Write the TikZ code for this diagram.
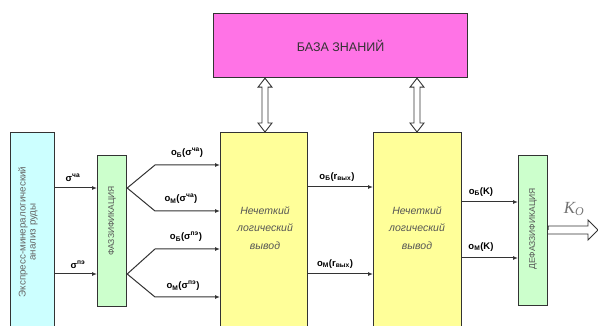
\documentclass[tikz,border=0pt]{standalone}
\usepackage{fontspec}
\setmainfont{Liberation Sans}
\newfontfamily\serifk{Liberation Serif}
\usetikzlibrary{calc,arrows.meta}
\definecolor{magbox}{HTML}{FF73E6}
\definecolor{yelbox}{HTML}{FFFF99}
\definecolor{cyabox}{HTML}{CCFFFF}
\definecolor{grebox}{HTML}{CCFFCC}
\definecolor{edge}{HTML}{333333}
\definecolor{txtgrey}{HTML}{555555}
\tikzset{
  box/.style={draw=edge, line width=1.2pt, anchor=north west, inner sep=0pt},
  arr/.style={draw=edge, line width=1pt, -{Latex[length=5pt,width=4pt]}},
  hollow/.style={draw=edge, line width=0.9pt, fill=white, line join=miter},
  lbl/.style={font=\fontsize{9.5}{10}\selectfont\bfseries, inner sep=0pt},
  ytext/.style={font=\fontsize{10.5}{17.5}\selectfont\itshape, text=txtgrey, align=center},
  vtext/.style={rotate=90, text=txtgrey, align=center}
}
\begin{document}
\begin{tikzpicture}[x=1pt,y=-1pt]
\clip (0,0) rectangle (598,326);
% boxes
\node[box, fill=magbox, minimum width=254pt, minimum height=64pt] (kb) at (213,13) {};
\node[font=\fontsize{12.5}{14}\selectfont, text=black!80] at (kb.center) {БАЗА ЗНАНИЙ};
\node[box, fill=yelbox, minimum width=87pt, minimum height=200pt] (y1) at (220,132) {};
\node[box, fill=yelbox, minimum width=88pt, minimum height=200pt] (y2) at (373,132) {};
\node[box, fill=cyabox, minimum width=44pt, minimum height=200pt] (cy) at (10,132) {};
\node[box, fill=grebox, minimum width=29pt, minimum height=151pt] (g1) at (97,155) {};
\node[box, fill=grebox, minimum width=29pt, minimum height=150pt] (g2) at (518,155) {};
% texts inside
\node[ytext] at (265,228) {Нечеткий\\логический\\вывод};
\node[ytext] at (417,228) {Нечеткий\\логический\\вывод};
\node[vtext, font=\fontsize{9.8}{10}\selectfont, text=txtgrey!90] at (28,232) {Экспресс-минералогический\\анализ руды};
\node[vtext, font=\fontsize{8.5}{9}\selectfont] at (g1.center |- 0,221) {ФАЗЗИФИКАЦИЯ};
\node[vtext, font=\fontsize{8.5}{9}\selectfont] at (g2.center |- 0,229) {ДЕФАЗЗИФИКАЦИЯ};
% knowledge base links (hollow double-headed arrows)
\coordinate (a1) at (kb.south -| 265,0);
\coordinate (b1) at (y1.north -| 265,0);
\coordinate (a2) at (kb.south -| 417,0);
\coordinate (b2) at (y2.north -| 417,0);
\foreach \a/\b in {a1/b1, a2/b2}{
  \draw[hollow] (\a) -- ++(-7,9) -- ++(4,0) -- ($(\b)+(-3,-9)$) -- ++(-4,0) -- (\b)
    -- ++(7,-9) -- ++(-4,0) -- ($(\a)+(3,9)$) -- ++(4,0) -- cycle;
}
% cyan -> fuzzification
\draw[arr] (cy.east |- 0,188) -- (g1.west |- 0,188);
\draw[arr] (cy.east |- 0,274) -- (g1.west |- 0,274);
\node[lbl] at (73,178) {σ\textsuperscript{ча}};
\node[lbl] at (78,265) {σ\textsuperscript{пэ}};
% forks
\draw[arr] (g1.east |- 0,188) -- (155,165) -- (y1.west |- 0,165);
\draw[arr] (g1.east |- 0,188) -- (155,211) -- (y1.west |- 0,211);
\draw[arr] (g1.east |- 0,274) -- (155,249) -- (y1.west |- 0,249);
\draw[arr] (g1.east |- 0,274) -- (155,297) -- (y1.west |- 0,297);
\node[lbl] at (187,153) {o\textsubscript{Б}(σ\textsuperscript{ча})};
\node[lbl] at (181,199) {o\textsubscript{М}(σ\textsuperscript{ча})};
\node[lbl] at (186,237) {o\textsubscript{Б}(σ\textsuperscript{пэ})};
\node[lbl] at (183,286) {o\textsubscript{М}(σ\textsuperscript{пэ})};
% middle
\draw[arr] (y1.east |- 0,187) -- (y2.west |- 0,187);
\draw[arr] (y1.east |- 0,274) -- (y2.west |- 0,274);
\node[lbl] at (337,177) {o\textsubscript{Б}(r\textsubscript{вых})};
\node[lbl] at (335,264) {o\textsubscript{М}(r\textsubscript{вых})};
% right
\draw[arr] (y2.east |- 0,202) -- (g2.west |- 0,202);
\draw[arr] (y2.east |- 0,258) -- (g2.west |- 0,258);
\node[lbl] at (481,192) {o\textsubscript{Б}(K)};
\node[lbl] at (481,247) {o\textsubscript{М}(K)};
% output hollow arrow
\coordinate (os) at (g2.east |- 0,230);
\coordinate (oe) at (598,230);
\draw[hollow] (os) -- ++(0,-4) -- ($(oe)+(-10,-4)$) -- ++(0,-6) -- (oe) -- ++(-10,10)
  -- ++(0,-6) -- ($(os)+(0,4)$);
\node[font=\serifk\fontsize{17}{19}\selectfont\itshape, text=black!55] at (574,209) {K\textsubscript{O}};
\end{tikzpicture}
\end{document}
